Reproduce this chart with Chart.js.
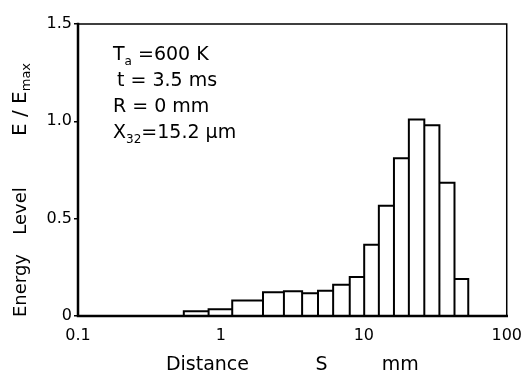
<!DOCTYPE html>
<html>
<head>
<meta charset="utf-8">
<script src="https://cdn.jsdelivr.net/npm/chart.js@4"></script>
<style>
  html, body { margin: 0; padding: 0; background: #fff; }
  #wrap { width: 532px; height: 376px; }
</style>
</head>
<body>
<div id="wrap"><canvas id="chart" width="532" height="376"></canvas></div>
<script>
// bin edges (mm) and energy level per bin
const edges = [0.55, 0.82, 1.2, 1.97, 2.76, 3.7, 4.78, 6.1, 7.97, 10.06, 12.74, 16.25, 20.66, 26.5, 33.8, 43.1, 53.8]
const energy = [0.025, 0.035, 0.079, 0.122, 0.127, 0.117, 0.13, 0.161, 0.2, 0.366, 0.566, 0.81, 1.01, 0.98, 0.685, 0.19]
const xTicks = [0.1, 1, 10, 100]
const xTickLabels = ['0.1', '1', '10', '100']
const yTicks = [0, 0.5, 1.0, 1.5]
const yTickLabels = ['0', '0.5', '1.0', '1.5']

const FONT = 'DejaVu Sans'

// outline of the histogram: up, across, down for each bin
const outline = []
energy.forEach((h, i) => {
  outline.push({ x: edges[i], y: 0 }, { x: edges[i], y: h }, { x: edges[i + 1], y: h }, { x: edges[i + 1], y: 0 })
})

// draws text with a subscript part, returns new x
function drawRuns(ctx, runs, x, y, big, small, drop) {
  runs.forEach(([txt, sub]) => {
    ctx.font = sub ? `${small}px "${FONT}"` : `${big}px "${FONT}"`
    ctx.fillText(txt, x, sub ? y + drop : y)
    x += ctx.measureText(txt).width
  })
  return x
}

const framePlugin = {
  id: 'frame',
  afterDatasetsDraw(chart) {
    const { ctx, chartArea: a } = chart
    ctx.save()
    ctx.strokeStyle = '#000'
    ctx.lineCap = 'square'
    ctx.lineWidth = 1.5
    ctx.beginPath()
    ctx.moveTo(a.left, a.top); ctx.lineTo(a.right, a.top); ctx.lineTo(a.right, a.bottom)
    ctx.stroke()
    ctx.lineWidth = 2.5
    ctx.beginPath()
    ctx.moveTo(a.left, a.top); ctx.lineTo(a.left, a.bottom); ctx.lineTo(a.right, a.bottom)
    ctx.stroke()
    ctx.restore()
  },
  afterDraw(chart) {
    const { ctx, chartArea: a } = chart
    ctx.save()
    ctx.fillStyle = '#000'
    ctx.textBaseline = 'alphabetic'
    ctx.textAlign = 'left'
    // conditions block
    const x0 = a.left + 35
    const y0 = a.top + 36
    drawRuns(ctx, [['T'], ['a', 1], [' =600 K']], x0, y0, 19, 12, 5)
    drawRuns(ctx, [['t = 3.5 ms']], x0 + 4, y0 + 26, 19, 12, 5)
    drawRuns(ctx, [['R = 0 mm']], x0, y0 + 52, 19, 12, 5)
    drawRuns(ctx, [['X'], ['32', 1], ['=15.2 \u00b5m']], x0, y0 + 78, 19, 12, 5)
    // rotated y title, three words spread along the axis
    ctx.translate(21, 0)
    ctx.rotate(-Math.PI / 2)
    ctx.textBaseline = 'middle'
    ctx.font = `18px "${FONT}"`
    ctx.fillText('Energy', -(a.bottom + 1), 0)
    ctx.textAlign = 'center'
    ctx.fillText('Level', -(a.top + 187), 0)
    ctx.textAlign = 'left'
    drawRuns(ctx, [['E / E'], ['max', 1]], -(a.top + 112), 0, 20, 13, 6)
    ctx.restore()
  }
}

new Chart('chart', {
  type: 'scatter',
  data: {
    datasets: [{
      data: outline,
      showLine: true,
      borderColor: '#000',
      borderWidth: 2,
      pointRadius: 0,
      tension: 0,
      fill: false,
    }],
  },
  options: {
    responsive: false,
    animation: false,
    devicePixelRatio: 1,
    layout: { padding: { top: 24, right: 22, bottom: 0, left: 0 } },
    plugins: { legend: { display: false }, tooltip: { enabled: false } },
    scales: {
      x: {
        type: 'logarithmic',
        min: 0.1,
        max: 100,
        afterBuildTicks: s => { s.ticks = xTicks.map(v => ({ value: v })) },
        afterFit: s => { s.height = 60 },
        grid: { display: false, drawTicks: false },
        border: { display: false },
        ticks: {
          autoSkip: false,
          maxRotation: 0,
          padding: 10,
          color: '#000',
          font: { family: FONT, size: 16 },
          callback: v => xTickLabels[xTicks.indexOf(v)],
        },
        title: {
          display: true,
          text: 'Distance           S         mm',
          color: '#000',
          font: { family: FONT, size: 19 },
          padding: { top: 0, bottom: 0 },
        },
      },
      y: {
        min: 0,
        max: 1.5,
        afterBuildTicks: s => { s.ticks = yTicks.map(v => ({ value: v })) },
        afterFit: s => { s.width = 78 },
        grid: { drawOnChartArea: false, drawTicks: true, tickLength: 4, color: '#000', lineWidth: 1.5 },
        border: { display: false },
        ticks: {
          padding: 2,
          color: '#000',
          font: { family: FONT, size: 16 },
          callback: v => yTickLabels[yTicks.indexOf(v)],
        },
      },
    },
  },
  plugins: [framePlugin],
})
</script>
</body>
</html>
